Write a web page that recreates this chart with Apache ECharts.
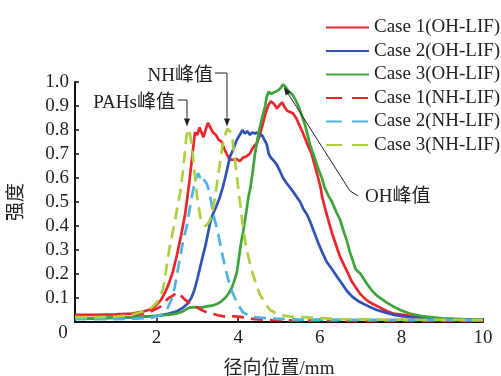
<!DOCTYPE html>
<html><head><meta charset="utf-8">
<script src="https://cdn.jsdelivr.net/npm/echarts@6/dist/echarts.min.js"></script>
<style>html,body{margin:0;padding:0;background:#fff}#c{width:501px;height:376px}</style>
</head><body><div id="c"></div>
<script>
const seriesNames = ['Case 1(OH-LIF)','Case 2(OH-LIF)','Case 3(OH-LIF)','Case 1(NH-LIF)','Case 2(NH-LIF)','Case 3(NH-LIF)'];
const xTicks = [0,2,4,6,8,10];
const yTicks = [0,0.1,0.2,0.3,0.4,0.5,0.6,0.7,0.8,0.9,1.0];

const case1OH = [[0,0.03],[0.5,0.03],[1.0,0.032],[1.4,0.035],[1.7,0.045],[1.9,0.055],[2.1,0.09],[2.2,0.12],[2.3,0.16],[2.4,0.21],[2.5,0.28],[2.6,0.36],[2.7,0.45],[2.8,0.58],[2.88,0.70],[2.94,0.79],[3.0,0.78],[3.05,0.81],[3.1,0.79],[3.15,0.77],[3.2,0.80],[3.26,0.83],[3.32,0.81],[3.38,0.79],[3.45,0.78],[3.52,0.76],[3.6,0.75],[3.66,0.72],[3.72,0.70],[3.78,0.68],[3.85,0.675],[3.95,0.68],[4.04,0.67],[4.12,0.685],[4.2,0.69],[4.28,0.70],[4.34,0.72],[4.4,0.735],[4.46,0.745],[4.53,0.78],[4.61,0.83],[4.67,0.87],[4.73,0.90],[4.8,0.92],[4.87,0.91],[4.95,0.89],[5.02,0.905],[5.08,0.915],[5.14,0.895],[5.2,0.88],[5.27,0.875],[5.34,0.87],[5.42,0.85],[5.5,0.82],[5.58,0.79],[5.65,0.76],[5.72,0.73],[5.8,0.70],[5.88,0.65],[5.96,0.60],[6.02,0.56],[6.06,0.52],[6.12,0.48],[6.2,0.43],[6.3,0.37],[6.4,0.32],[6.5,0.27],[6.6,0.235],[6.7,0.20],[6.78,0.17],[6.82,0.165],[6.9,0.14],[7.0,0.115],[7.15,0.09],[7.3,0.075],[7.48,0.06],[7.65,0.045],[7.8,0.035],[8.05,0.03],[8.4,0.02],[9.0,0.012],[9.5,0.008],[10,0.006]];
const case2OH = [[0,0.015],[0.5,0.015],[1.0,0.018],[1.5,0.02],[2.0,0.025],[2.3,0.035],[2.5,0.045],[2.65,0.06],[2.75,0.075],[2.85,0.10],[2.92,0.13],[3.0,0.18],[3.07,0.23],[3.14,0.28],[3.2,0.32],[3.26,0.37],[3.32,0.42],[3.38,0.45],[3.46,0.48],[3.55,0.52],[3.62,0.56],[3.68,0.60],[3.74,0.645],[3.8,0.69],[3.88,0.72],[3.97,0.76],[4.04,0.78],[4.1,0.80],[4.16,0.785],[4.22,0.795],[4.29,0.78],[4.35,0.79],[4.41,0.785],[4.46,0.79],[4.52,0.775],[4.58,0.78],[4.64,0.76],[4.7,0.74],[4.75,0.70],[4.8,0.685],[4.88,0.67],[4.95,0.655],[5.02,0.63],[5.1,0.60],[5.18,0.58],[5.27,0.56],[5.36,0.54],[5.44,0.52],[5.52,0.50],[5.6,0.47],[5.68,0.45],[5.76,0.42],[5.86,0.375],[5.96,0.33],[6.06,0.29],[6.17,0.25],[6.3,0.22],[6.42,0.19],[6.54,0.16],[6.66,0.13],[6.8,0.105],[6.98,0.083],[7.2,0.065],[7.4,0.05],[7.6,0.04],[7.8,0.03],[8.2,0.02],[8.6,0.015],[9.2,0.01],[10,0.008]];
const case3OH = [[0,0.015],[0.5,0.015],[1.0,0.018],[1.5,0.02],[1.9,0.025],[2.25,0.03],[2.5,0.035],[2.65,0.045],[2.8,0.06],[2.95,0.062],[3.1,0.06],[3.23,0.065],[3.35,0.068],[3.48,0.075],[3.58,0.085],[3.68,0.10],[3.77,0.12],[3.85,0.145],[3.92,0.18],[3.97,0.21],[4.02,0.27],[4.07,0.33],[4.12,0.375],[4.19,0.45],[4.25,0.52],[4.3,0.56],[4.36,0.63],[4.41,0.70],[4.47,0.76],[4.53,0.81],[4.6,0.86],[4.66,0.90],[4.7,0.94],[4.75,0.96],[4.8,0.95],[4.86,0.955],[4.92,0.96],[4.98,0.965],[5.04,0.975],[5.1,0.99],[5.16,0.98],[5.22,0.965],[5.28,0.955],[5.34,0.945],[5.42,0.92],[5.5,0.89],[5.57,0.855],[5.64,0.82],[5.7,0.78],[5.76,0.74],[5.82,0.71],[5.88,0.68],[5.96,0.64],[6.05,0.60],[6.12,0.56],[6.2,0.53],[6.3,0.50],[6.4,0.46],[6.5,0.425],[6.58,0.38],[6.66,0.34],[6.74,0.29],[6.82,0.25],[6.88,0.22],[6.92,0.225],[7.0,0.20],[7.15,0.16],[7.28,0.13],[7.4,0.11],[7.52,0.095],[7.65,0.08],[7.8,0.065],[7.97,0.05],[8.2,0.035],[8.5,0.025],[9.0,0.015],[9.5,0.012],[10,0.01]];
const case1NH = [[0,0.02],[0.5,0.02],[1.0,0.022],[1.5,0.03],[1.8,0.04],[2.0,0.055],[2.1,0.065],[2.2,0.085],[2.3,0.10],[2.4,0.11],[2.5,0.123],[2.58,0.115],[2.65,0.10],[2.72,0.09],[2.8,0.08],[2.9,0.07],[3.0,0.06],[3.1,0.05],[3.2,0.043],[3.3,0.038],[3.5,0.028],[3.7,0.022],[3.9,0.024],[4.1,0.02],[4.4,0.012],[4.8,0.008],[5.5,0.006],[7,0.005],[10,0.005]];
const case2NH = [[0,0.012],[0.5,0.012],[1.0,0.012],[1.5,0.014],[1.9,0.018],[2.1,0.03],[2.25,0.05],[2.38,0.10],[2.45,0.15],[2.5,0.2],[2.56,0.255],[2.62,0.31],[2.68,0.36],[2.74,0.40],[2.8,0.46],[2.86,0.52],[2.92,0.57],[2.97,0.60],[3.02,0.62],[3.07,0.60],[3.12,0.61],[3.17,0.59],[3.22,0.58],[3.28,0.55],[3.33,0.51],[3.38,0.46],[3.43,0.42],[3.48,0.39],[3.54,0.34],[3.6,0.29],[3.67,0.235],[3.75,0.18],[3.83,0.135],[3.92,0.10],[4.02,0.065],[4.12,0.04],[4.25,0.028],[4.4,0.02],[4.8,0.014],[5.5,0.01],[10,0.008]];
const case3NH = [[0,0.02],[0.5,0.02],[1.0,0.022],[1.4,0.03],[1.7,0.045],[1.88,0.06],[2.0,0.08],[2.1,0.11],[2.16,0.14],[2.22,0.2],[2.28,0.27],[2.34,0.33],[2.4,0.38],[2.46,0.43],[2.5,0.47],[2.58,0.54],[2.64,0.62],[2.69,0.70],[2.73,0.77],[2.77,0.805],[2.81,0.79],[2.85,0.75],[2.89,0.69],[2.93,0.62],[2.98,0.54],[3.03,0.48],[3.08,0.43],[3.14,0.41],[3.2,0.40],[3.26,0.41],[3.32,0.43],[3.38,0.47],[3.44,0.53],[3.5,0.60],[3.56,0.67],[3.62,0.74],[3.68,0.78],[3.74,0.805],[3.8,0.795],[3.86,0.76],[3.91,0.69],[3.96,0.62],[4.0,0.56],[4.05,0.49],[4.12,0.39],[4.2,0.31],[4.28,0.25],[4.36,0.20],[4.45,0.15],[4.53,0.115],[4.65,0.08],[4.78,0.05],[5.0,0.03],[5.3,0.022],[5.8,0.018],[6.5,0.012],[7.5,0.01],[10,0.008]];

// annotations (data coordinates)
const annoTexts = [
  {text:'PAHs峰值', at:[2.45,0.9125], align:'right'},
  {text:'NH峰值', at:[3.38,1.025], align:'right'},
  {text:'OH峰值', at:[7.11,0.52], align:'left'}
];
const annoPaths = [
  {pts:[[2.52,0.925],[2.745,0.925],[2.745,0.815]], arrow:true},
  {pts:[[3.43,1.0375],[3.725,1.0375],[3.725,0.815]], arrow:true},
  {pts:[[6.94,0.525],[6.74,0.546],[5.12,0.979]], arrow:true}
];

const seriesData = [case1OH, case2OH, case3OH, case1NH, case2NH, case3NH];
const colors = ['#e8262c','#2f52b4','#3ea33a','#e8262c','#4db3e2','#acd03e'];
const dashed = [false,false,false,true,true,true];

const FONT = '"Liberation Serif","Times New Roman","Noto Sans CJK SC",serif';
const chart = echarts.init(document.getElementById('c'));

const series = seriesData.map((d,i)=>({
  name: seriesNames[i], type:'line', data:d, symbol:'none', showSymbol:false,
  clip: false, z: 2,
  lineStyle:{color:colors[i], width:2.7, type: dashed[i] ? [12,7] : 'solid'},
  itemStyle:{color:colors[i]},
  emphasis:{disabled:true}
}));

chart.setOption({
  animation:false,
  backgroundColor:'#fff',
  grid:{left:75, right:18, top:82, bottom:54, containLabel:false, outerBoundsMode:'none'},
  legend:{
    data: seriesNames.map((n,i)=> dashed[i] ? {name:n, lineStyle:{type:[16,10]}} : {name:n}),
    orient:'vertical', left:320, top:13,
    itemWidth:43, itemHeight:14, itemGap:4.5,
    itemStyle:{opacity:0},
    textStyle:{fontSize:19, fontFamily:FONT, color:'#222', lineHeight:18}
  },
  xAxis:{
    type:'value', min:xTicks[0], max:xTicks[xTicks.length-1], interval:2,
    name:'径向位置/mm', nameLocation:'middle', nameGap:38,
    nameTextStyle:{fontSize:19, fontFamily:FONT, color:'#222'},
    axisLine:{lineStyle:{color:'#111', width:2}},
    axisTick:{inside:true, length:4, lineStyle:{color:'#111', width:1.5}},
    axisLabel:{fontSize:19, fontFamily:FONT, color:'#222', margin:7, showMinLabel:true,
      formatter:v=> v===0 ? '{z|0}' : String(v),
      rich:{z:{fontSize:19, fontFamily:FONT, color:'#222', lineHeight:8, padding:[0,24,0,0]}}},
    splitLine:{show:false}
  },
  yAxis:{
    type:'value', min:yTicks[0], max:yTicks[yTicks.length-1], interval:0.1,
    name:'强度', nameLocation:'middle', nameGap:48, nameRotate:90,
    nameTextStyle:{fontSize:19, fontFamily:FONT, color:'#222'},
    axisLine:{show:true, lineStyle:{color:'#111', width:2}},
    axisTick:{show:true, inside:true, length:4, lineStyle:{color:'#111', width:1.5}},
    axisLabel:{fontSize:19, fontFamily:FONT, color:'#222', margin:6, showMinLabel:false,
      formatter:v=> Math.abs(v)<1e-9 ? '' : v.toFixed(1)},
    splitLine:{show:false}
  },
  series: series
});

// annotation graphics positioned from data coordinates
const px = p => chart.convertToPixel({gridIndex:0}, p);
const graphics = [];
annoPaths.forEach(a=>{
  const pts = a.pts.map(px);
  const n = pts.length;
  const tip = pts[n-1], prev = pts[n-2];
  let dx = tip[0]-prev[0], dy = tip[1]-prev[1];
  const len = Math.hypot(dx,dy); dx/=len; dy/=len;
  const L = 8, W = 3;
  const base = [tip[0]-dx*L, tip[1]-dy*L];
  const linePts = pts.slice(0, n-1).concat([base]);
  graphics.push({type:'polyline', silent:true, z:10, shape:{points:linePts}, style:{stroke:'#222', lineWidth:1, fill:null}});
  if (a.arrow) graphics.push({type:'polygon', silent:true, z:10,
    shape:{points:[tip,[base[0]-dy*W, base[1]+dx*W],[base[0]+dy*W, base[1]-dx*W]]},
    style:{fill:'#222'}});
});
annoTexts.forEach(t=>{
  const p = px(t.at);
  graphics.push({type:'text', silent:true, z:10, x:p[0], y:p[1],
    style:{text:t.text, fill:'#222', font:'19px ' + FONT, align:t.align, verticalAlign:'middle'}});
});
chart.setOption({graphic: graphics});
</script></body></html>
